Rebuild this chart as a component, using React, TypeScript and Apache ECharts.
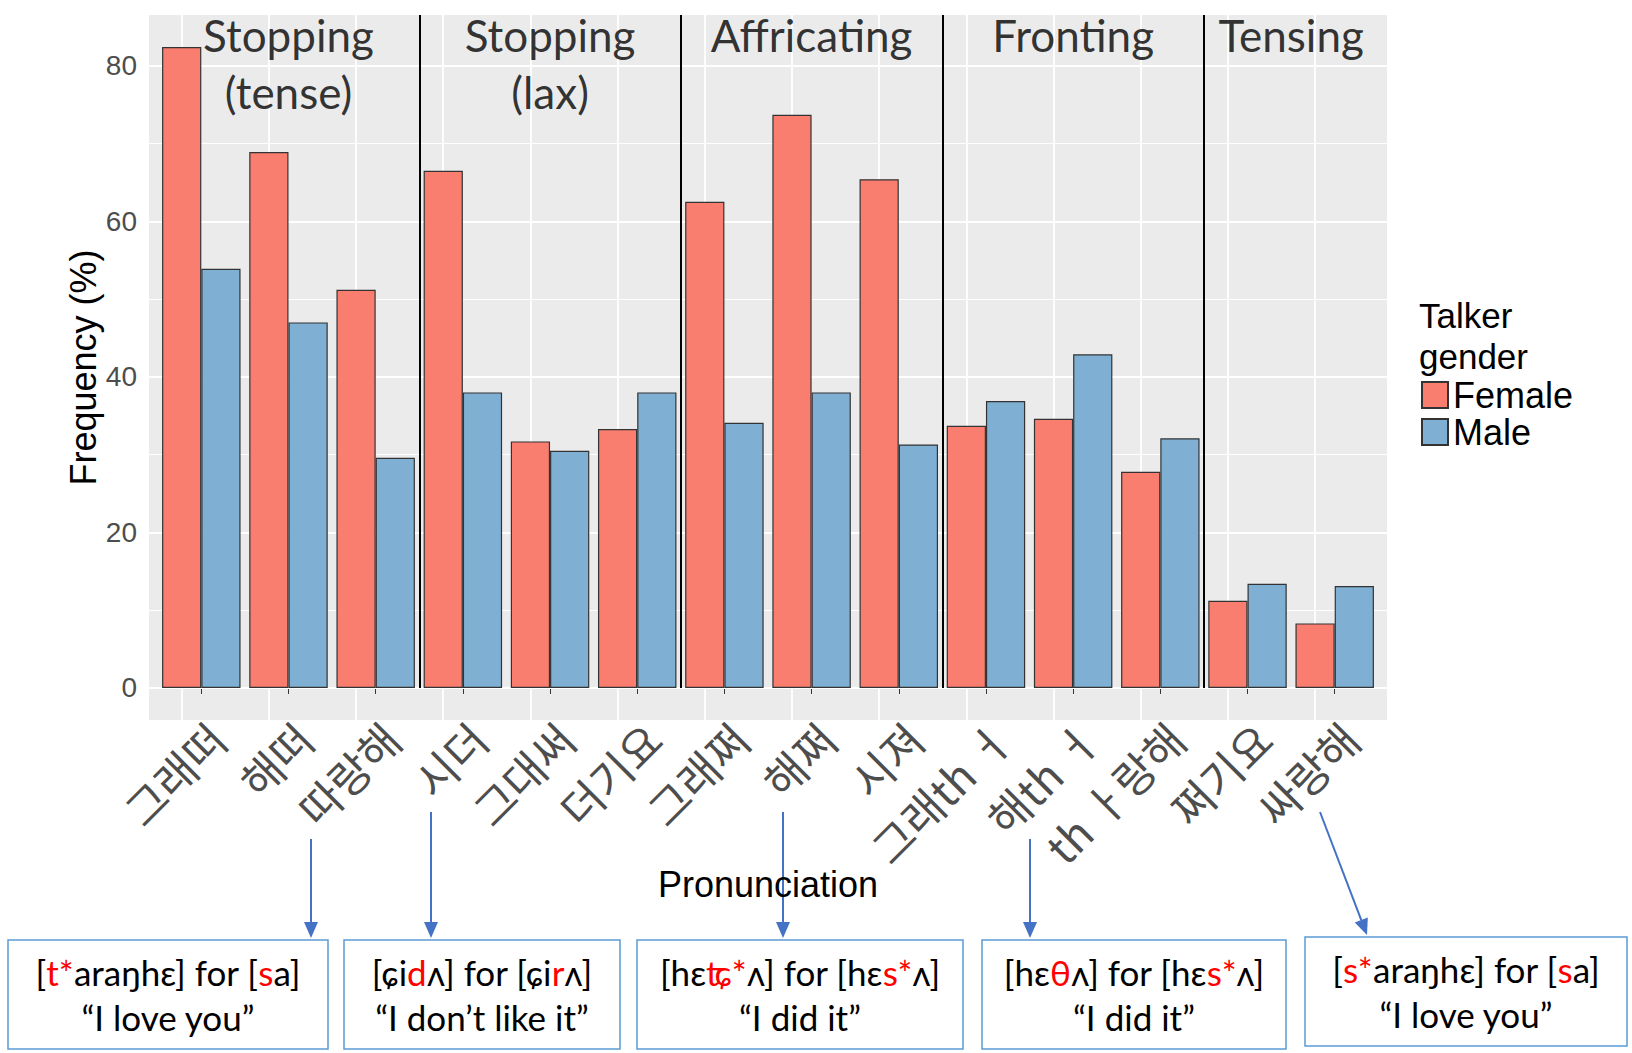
import React, { useEffect, useRef } from "react";
import * as echarts from "echarts";

// ---------- data ----------
const categories = [
  "그래떠", "해떠", "따랑해", "시더", "그대써", "더기요", "그래쩌",
  "해쩌", "시져", "그래th ㅓ", "해th ㅓ", "th ㅏ랑해", "쩌기요", "싸랑해",
];
const female = [82.4, 68.9, 51.2, 66.5, 31.7, 33.3, 62.5, 73.7, 65.4, 33.7, 34.6, 27.8, 11.2, 8.3];
const male = [53.9, 47.0, 29.6, 38.0, 30.5, 38.0, 34.1, 38.0, 31.3, 36.9, 42.9, 32.1, 13.4, 13.1];
const yTicks = [0, 20, 40, 60, 80];
const yMinorTicks = [10, 30, 50, 70];
const groupNames = ["Stopping\n(tense)", "Stopping\n(lax)", "Affricating", "Fronting", "Tensing"];
const groupFirst = [0, 3, 6, 9, 12];
const groupLast = [2, 5, 8, 11, 13];
const noteLine1 = [
  "[{r|t*}araŋhɛ] for [{r|s}a]",
  "[ɕi{r|d}ʌ] for [ɕi{r|r}ʌ]",
  "[hɛ{r|ʨ*}ʌ] for [hɛ{r|s*}ʌ]",
  "[hɛ{r|θ}ʌ] for [hɛ{r|s*}ʌ]",
  "[{r|s*}araŋhɛ] for [{r|s}a]",
];
const noteLine2 = ["“I love you”", "“I don’t like it”", "“I did it”", "“I did it”", "“I love you”"];

// ---------- layout (annotation boxes / arrows) ----------
const W = 1632;
const H = 1053;
const panelLeft = 149;
const panelRight = 245;
const panelTop = 15;
const panelBottom = 333;
const boxRects = [
  [8, 940, 320, 109],
  [344, 940, 276, 109],
  [637, 940, 326, 109],
  [982, 940, 304, 109],
  [1305, 937, 322, 109],
];
const arrowSegs = [
  [311, 839, 311, 938],
  [431, 812, 431, 938],
  [783, 812, 783, 938],
  [1030, 839, 1030, 938],
  [1320, 812, 1367, 935],
];

const FEMALE = "#FA7E6F";
const MALE = "#7FB0D3";
const PANEL = "#EBEBEB";
const ARROW = "#4472C4";
const BOX = "#5B9BD5";
const LATIN = "Lato, 'Noto Sans', 'DejaVu Sans', sans-serif";
const ARIAL = "'Liberation Sans', Arial, sans-serif";

function arrow(x1: number, y1: number, x2: number, y2: number) {
  const dx = x2 - x1;
  const dy = y2 - y1;
  const len = Math.hypot(dx, dy);
  const ux = dx / len;
  const uy = dy / len;
  const head = 16;
  const half = 7;
  const bx = x2 - ux * head;
  const by = y2 - uy * head;
  const px = -uy;
  const py = ux;
  return [
    { type: "line", silent: true, shape: { x1, y1, x2: bx, y2: by }, style: { stroke: ARROW, lineWidth: 2 } },
    {
      type: "polygon",
      silent: true,
      shape: { points: [[x2, y2], [bx + px * half, by + py * half], [bx - px * half, by - py * half]] },
      style: { fill: ARROW },
    },
  ];
}

export default function App() {
  const ref = useRef<HTMLDivElement>(null);

  useEffect(() => {
    if (!ref.current) return;
    const chart = echarts.init(ref.current, undefined, { renderer: "svg" });

    const n = categories.length;
    const dataMax = Math.max(...female, ...male);
    const yMin = -0.05 * dataMax;
    const yMax = dataMax * 1.05;
    const band = (W - panelLeft - panelRight) / (n - 1 + 1.2);
    const inset = 0.1 * band;

    const separators = groupFirst.slice(1).map((f) => f - 0.5);

    const graphics: any[] = [];
    boxRects.forEach((r, i) => {
      graphics.push({
        type: "rect",
        silent: true,
        shape: { x: r[0], y: r[1], width: r[2], height: r[3] },
        style: { fill: "#fff", stroke: BOX, lineWidth: 1.5 },
      });
      graphics.push({
        type: "text",
        silent: true,
        x: r[0] + r[2] / 2,
        y: r[1] + r[3] / 2,
        style: {
          text: noteLine1[i] + "\n" + noteLine2[i],
          fill: "#000",
          fontSize: 35,
          fontFamily: LATIN,
          lineHeight: 45,
          align: "center",
          verticalAlign: "middle",
          rich: { r: { fill: "#FF0000", fontSize: 35, fontFamily: LATIN, lineHeight: 45 } },
        },
      });
    });
    arrowSegs.forEach((s) => graphics.push(...arrow(s[0], s[1], s[2], s[3])));

    const option: any = {
      animation: false,
      backgroundColor: "#fff",
      title: {
        text: "Talker\ngender",
        left: 1419,
        top: 295,
        padding: 0,
        textStyle: { fontSize: 35, fontWeight: "normal", color: "#000", fontFamily: ARIAL, lineHeight: 41 },
      },
      legend: {
        data: ["Female", "Male"],
        orient: "vertical",
        left: 1421,
        top: 377,
        padding: 0,
        itemWidth: 26,
        itemHeight: 26,
        itemGap: 1,
        icon: "rect",
        selectedMode: false,
        textStyle: { fontSize: 36, color: "#000", fontFamily: ARIAL, lineHeight: 28 },
      },
      grid: [
        {
          left: panelLeft, right: panelRight, top: panelTop, bottom: panelBottom,
          show: true, backgroundColor: PANEL, borderWidth: 0, outerBoundsMode: "none",
        },
        {
          left: panelLeft + inset, right: panelRight + inset, top: panelTop, bottom: panelBottom,
          show: false, outerBoundsMode: "none",
        },
      ],
      xAxis: [
        { type: "value", gridIndex: 0, min: -0.6, max: n - 1 + 0.6, show: false },
        {
          type: "category",
          gridIndex: 1,
          data: categories,
          axisLine: { show: false },
          axisTick: { show: true, alignWithLabel: true, length: 6, lineStyle: { color: "#333", width: 1 } },
          axisLabel: {
            interval: 0,
            rotate: 45,
            margin: -5,
            align: "right",
            verticalAlign: "top",
            fontSize: 44,
            color: "#4d4d4d",
            fontFamily: "'Noto Sans CJK KR', sans-serif",
          },
          splitLine: { show: false },
          name: "Pronunciation",
          nameLocation: "middle",
          nameGap: 146,
          nameMoveOverlap: false,
          nameTextStyle: { fontSize: 36, color: "#000", fontFamily: ARIAL },
        },
      ],
      yAxis: [
        {
          type: "value",
          gridIndex: 0,
          min: yMin,
          max: yMax,
          axisLine: { show: false },
          axisTick: { show: true, customValues: yTicks, length: 7, lineStyle: { color: "#333", width: 1 } },
          axisLabel: {
            customValues: yTicks,
            margin: 12,
            fontSize: 28,
            color: "#4d4d4d",
            fontFamily: ARIAL,
            formatter: (v: number) => (yTicks.indexOf(Math.round(v * 1000) / 1000) >= 0 ? String(v) : ""),
          },
          splitLine: { show: false },
          name: "Frequency (%)",
          nameLocation: "middle",
          nameRotate: 90,
          nameGap: 48,
          nameMoveOverlap: false,
          nameTextStyle: { fontSize: 36, color: "#000", fontFamily: ARIAL },
        },
        { type: "value", gridIndex: 1, min: yMin, max: yMax, show: false },
      ],
      series: [
        {
          name: "Female",
          type: "bar",
          xAxisIndex: 1,
          yAxisIndex: 1,
          data: female,
          barGap: "0%",
          barCategoryGap: "10%",
          itemStyle: { color: FEMALE, borderColor: "#333", borderWidth: 1.2 },
          z: 2,
          markLine: {
            silent: true,
            z: 1,
            symbol: ["none", "none"],
            label: { show: false },
            lineStyle: { color: "#fff", width: 1.8, type: "solid" },
            data: categories.map((_, i) => ({ xAxis: i })),
          },
        },
        {
          name: "Male",
          type: "bar",
          xAxisIndex: 1,
          yAxisIndex: 1,
          data: male,
          barGap: "0%",
          barCategoryGap: "10%",
          itemStyle: { color: MALE, borderColor: "#333", borderWidth: 1.2 },
          z: 2,
        },
        {
          name: "separators",
          type: "lines",
          coordinateSystem: "cartesian2d",
          xAxisIndex: 0,
          yAxisIndex: 0,
          silent: true,
          z: 4,
          lineStyle: { color: "#000", width: 2, opacity: 1 },
          data: separators.map((x) => ({ coords: [[x, 0], [x, yMax]] })),
        },
        {
          name: "groups",
          type: "scatter",
          xAxisIndex: 0,
          yAxisIndex: 0,
          silent: true,
          symbolSize: 0,
          z: 4,
          data: groupNames.map((g, i) => ({ name: g, value: [(groupFirst[i] + groupLast[i]) / 2, yMax] })),
          label: {
            show: true,
            formatter: "{b}",
            position: "bottom",
            distance: 0,
            offset: [0, -9],
            color: "#000",
            fontSize: 44,
            lineHeight: 57,
            fontFamily: LATIN,
          },
          markLine: {
            silent: true,
            z: 1,
            symbol: ["none", "none"],
            label: { show: false },
            lineStyle: { color: "#fff", type: "solid" },
            data: [
              ...yTicks.map((v) => ({ yAxis: v, lineStyle: { width: 2, color: "#fff", type: "solid" } })),
              ...yMinorTicks.map((v) => ({ yAxis: v, lineStyle: { width: 1, color: "#fff", type: "solid" } })),
            ],
          },
        },
      ],
      graphic: graphics,
    };

    chart.setOption(option);
    return () => chart.dispose();
  }, []);

  return <div ref={ref} style={{ position: "absolute", left: 0, top: 0, width: W, height: H }} />;
}
